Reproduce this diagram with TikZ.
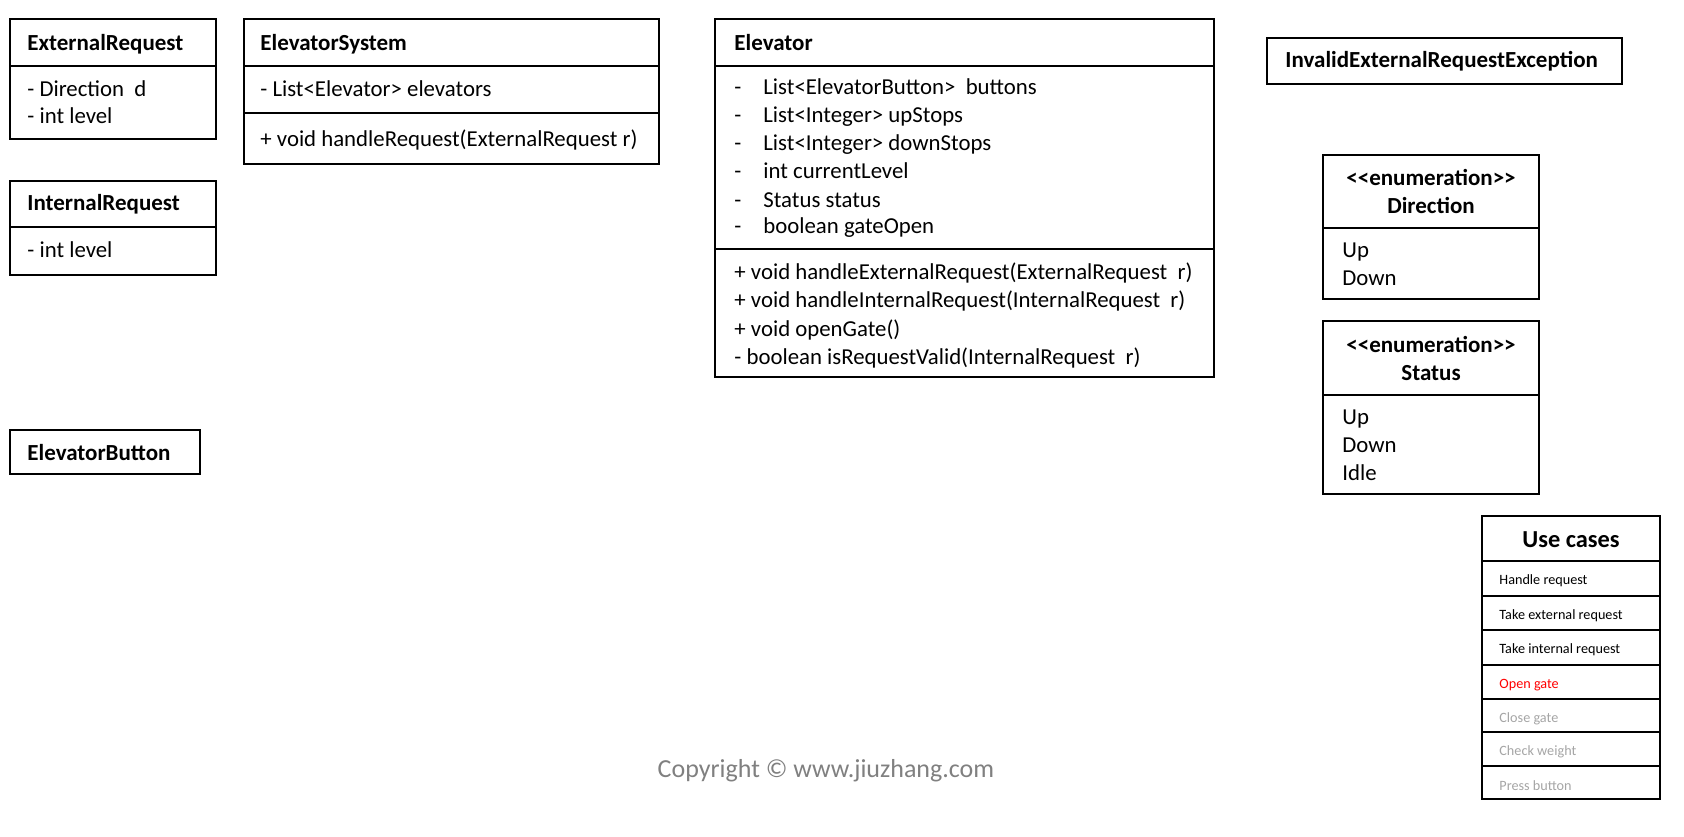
\documentclass[tikz,border=0pt]{standalone}
\usepackage{fontspec}
\setmainfont{Carlito}
\usetikzlibrary{positioning}
\definecolor{ucgray}{RGB}{165,165,165}
\definecolor{cpgray}{RGB}{128,128,128}

\begin{document}
\begin{tikzpicture}[x=0.5pt,y=-0.5pt,
		box/.style={draw=black,line width=1pt},
		txt/.style={anchor=base west,inner sep=0pt,font=\fontsize{11.4}{13}\selectfont},
		ttl/.style={anchor=base west,inner sep=0pt,font=\fontsize{11.5}{13}\selectfont\bfseries},
		ctl/.style={anchor=base,inner sep=0pt,font=\fontsize{11.5}{13}\selectfont\bfseries},
		uc/.style={anchor=base west,inner sep=0pt,font=\fontsize{7.1}{8}\selectfont}]
		\useasboundingbox (0,0) rectangle (1684,836);
		
		% class boxes as left/top/right/bottom
		\foreach \xa/\ya/\xb/\yb in {10/19/216/139,10/181/216/275,10/430/200/474,
			244/19/659/164,715/19/1214/377,1267/38/1622/84,
			1323/155/1539/299,1323/321/1539/494,1482/516/1660/799} {
			\draw[box] (\xa,\ya) rectangle (\xb,\yb);
		}
		
		% compartment lines
		\foreach \xa/\xb/\y in {10/216/66,10/216/227,244/659/66,244/659/113,
			715/1214/66,715/1214/249,1323/1539/228,1323/1539/395,
			1482/1660/561,1482/1660/596,1482/1660/630,1482/1660/665,
			1482/1660/699,1482/1660/732,1482/1660/766} {
			\draw[box] (\xa,\y) -- (\xb,\y);
		}
		
		% class names
		\foreach \mynode/\x/\y/\mytext in {ext/27/50/ExternalRequest,int/27/210/InternalRequest,
			btn/27/460/ElevatorButton,sys/260/50/ElevatorSystem,elev/734/50/Elevator,
			exc/1285/67/InvalidExternalRequestException} {
			\node[ttl] (\mynode) at (\x,\y) {\mytext};
		}
		
		% attributes and methods
		\foreach \mynode/\x/\y/\mytext in {ext-a/27/96/- Direction\ \ d,ext-b/27/123/- int level,
			int-a/27/257/- int level,
			sys-a/260/96/- List<Elevator> elevators,
			sys-m/260/146/+ void handleRequest(ExternalRequest r),
			elev-m1/734/279/+ void handleExternalRequest(ExternalRequest\ \ r),
			elev-m2/734/307/+ void handleInternalRequest(InternalRequest\ \ r),
			elev-m3/734/336/+ void openGate(),
			elev-m4/734/364/- boolean isRequestValid(InternalRequest\ \ r)} {
			\node[txt] (\mynode) at (\x,\y) {\mytext};
		}
		
		% elevator fields with the dash set apart
		\foreach \mynode/\y/\mytext in {f1/94/List<ElevatorButton>\ \ buttons,
			f2/122/List<Integer> upStops,f3/150/List<Integer> downStops,
			f4/178/int currentLevel,f5/207/Status status,f6/233/boolean gateOpen} {
			\node[txt] (\mynode-d) at (734,\y) {-};
			\node[txt] (\mynode) at (763,\y) {\mytext};
		}
		
		% enumerations
		\node[ctl] (dir-s) at (1431,185) {<\kern0pt<enumeration>\kern0pt>};
		\node[ctl] (dir) at (1431,213) {Direction};
		\node[ctl] (st-s) at (1431,352) {<\kern0pt<enumeration>\kern0pt>};
		\node[ctl] (st) at (1431,380) {Status};
		\foreach \mynode/\y/\mytext in {dir-up/257/Up,dir-dn/285/Down,
			st-up/424/Up,st-dn/452/Down,st-id/480/Idle} {
			\node[txt] (\mynode) at (1342,\y) {\mytext};
		}
		
		% use cases
		\node[anchor=base,inner sep=0pt,font=\fontsize{12.2}{14}\selectfont\bfseries] (uc) at (1571,547) {Use cases};
		\foreach \mynode/\y/\mycol/\mytext in {uc1/584/black/Handle request,
			uc2/619/black/Take external request,uc3/653/black/Take internal\ request,
			uc4/688/red/Open gate,uc5/722/ucgray/Close\ gate,
			uc6/755/ucgray/Check weight,uc7/790/ucgray/Press button} {
			\node[uc,text=\mycol] (\mynode) at (1499,\y) {\mytext};
		}
		
		\node[anchor=base,inner sep=0pt,text=cpgray,font=\fontsize{13}{15}\selectfont] (copy) at (826,777) {Copyright © www.jiuzhang.com};
\end{tikzpicture}
\end{document}
